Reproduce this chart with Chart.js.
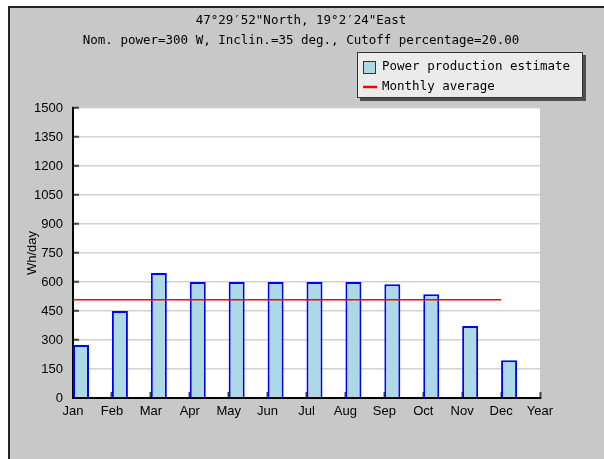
<!DOCTYPE html>
<html>
<head>
<meta charset="utf-8">
<script src="https://cdn.jsdelivr.net/npm/chart.js@4.4.1/dist/chart.umd.min.js"></script>
<style>
  html, body { margin: 0; padding: 0; background: #fff; }
  #grafico { display: block; }
</style>
</head>
<body>
<canvas id="grafico" width="604" height="459"></canvas>
<script>
const meses = ["Jan", "Feb", "Mar", "Apr", "May", "Jun", "Jul", "Aug", "Sep", "Oct", "Nov", "Dec", "Year"];
const producao = [274, 450, 646, 600, 600, 600, 600, 600, 588, 536, 372, 195, null];
const mediaMensal = [508, 508, 508, 508, 508, 508, 508, 508, 508, 508, 508, 508, null];
const vazio = meses.map(() => null); // grupo vazio, empurra as barras para a direita do tick
const titulo = ["47°29′52\"North, 19°2′24\"East", "Nom. power=300 W, Inclin.=35 deg., Cutoff percentage=20.00"];
const eixoY = { min: 0, max: 1500, passo: 150, titulo: "Wh/day" };

const fonteMono = "12.5px 'DejaVu Sans Mono'";

// fundo cinza com moldura + area branca do grafico
const fundo = {
  id: "fundo",
  beforeDraw(chart) {
    const c = chart.ctx;
    const a = chart.chartArea;
    c.save();
    c.fillStyle = "#ffffff";
    c.fillRect(0, 0, chart.width, chart.height);
    c.fillStyle = "#c8c8c8";
    c.fillRect(9, 7, chart.width, chart.height);
    c.fillStyle = "#222";
    c.fillRect(8, 6, chart.width, 2);
    c.fillRect(8, 6, 2, chart.height);
    c.fillStyle = "#ffffff";
    c.fillRect(a.left, a.top, a.right - a.left, a.bottom - a.top);
    c.restore();
  }
};

// titulo em duas linhas e legenda em caixa com sombra
const tituloELegenda = {
  id: "tituloELegenda",
  afterDraw(chart) {
    const c = chart.ctx;
    c.save();
    c.font = fonteMono;
    c.fillStyle = "#000";
    c.textAlign = "center";
    c.textBaseline = "middle";
    c.fillText(titulo[0], 301, 21);
    c.fillText(titulo[1], 301, 41);

    // caixa
    c.fillStyle = "#505050";
    c.fillRect(360, 55, 226, 46);
    c.fillStyle = "#ebebeb";
    c.fillRect(357, 52, 226, 46);
    c.strokeStyle = "#333";
    c.lineWidth = 1;
    c.strokeRect(357.5, 52.5, 225, 45);

    const itens = chart.data.datasets.filter((d) => d.label);
    c.textAlign = "left";
    itens.forEach((d, i) => {
      const y = 67 + i * 19.5;
      if (d.type === "line") {
        c.strokeStyle = d.borderColor;
        c.lineWidth = 2.5;
        c.beginPath();
        c.moveTo(363, y + 0.5);
        c.lineTo(377, y + 0.5);
        c.stroke();
      } else {
        c.fillStyle = d.backgroundColor;
        c.fillRect(363, y - 6, 13, 13);
        c.strokeStyle = "#333";
        c.lineWidth = 1;
        c.strokeRect(363.5, y - 5.5, 12, 12);
      }
      c.fillStyle = "#000";
      c.fillText(d.label, 382, y);
    });
    c.restore();
  }
};

const ctx = document.getElementById("grafico").getContext("2d");
const grafico = new Chart(ctx, {
  type: "bar",
  data: {
    labels: meses,
    datasets: [
      {
        data: vazio,
        backgroundColor: "rgba(0,0,0,0)",
        borderWidth: 0,
        order: 2,
      },
      {
        label: "Power production estimate",
        data: producao,
        backgroundColor: "#add8e6",
        borderColor: "#0000ff",
        borderWidth: 2,
        order: 2,
      },
      {
        type: "line",
        label: "Monthly average",
        data: mediaMensal,
        borderColor: "#ff0000",
        borderWidth: 1.5,
        pointRadius: 0,
        fill: false,
        order: 1,
      },
    ],
  },
  options: {
    responsive: false,
    animation: false,
    devicePixelRatio: 1,
    categoryPercentage: 0.822,
    barPercentage: 1,
    layout: { padding: { left: 9, right: 64, top: 108, bottom: 0 } },
    plugins: {
      legend: { display: false },
      tooltip: { enabled: false },
    },
    scales: {
      x: {
        offset: false,
        grid: {
          offset: false,
          drawOnChartArea: false,
          tickLength: -6,
          tickColor: "#444",
          tickWidth: 2,
        },
        border: { color: "#000", width: 2 },
        ticks: {
          padding: 12,
          color: "#000",
          maxRotation: 0,
          autoSkip: false,
          font: { family: "'Liberation Sans'", size: 13 },
        },
        afterFit(scale) {
          scale.height = 61;
        },
      },
      y: {
        min: eixoY.min,
        max: eixoY.max,
        ticks: {
          stepSize: eixoY.passo,
          padding: 16,
          color: "#000",
          font: { family: "'Liberation Sans'", size: 13 },
          callback: (v) => String(v),
        },
        grid: {
          color: "#d2d2d2",
          lineWidth: 1.5,
          tickLength: -6,
          tickColor: "#444",
          tickWidth: 2,
        },
        border: { color: "#000", width: 2 },
        title: {
          display: true,
          text: eixoY.titulo,
          color: "#000",
          padding: { top: 15.7, bottom: 0 },
          font: { family: "'Liberation Sans'", size: 13 },
        },
        afterFit(scale) {
          scale.width = 64;
        },
      },
    },
  },
  plugins: [fundo, tituloELegenda],
});
</script>
</body>
</html>
